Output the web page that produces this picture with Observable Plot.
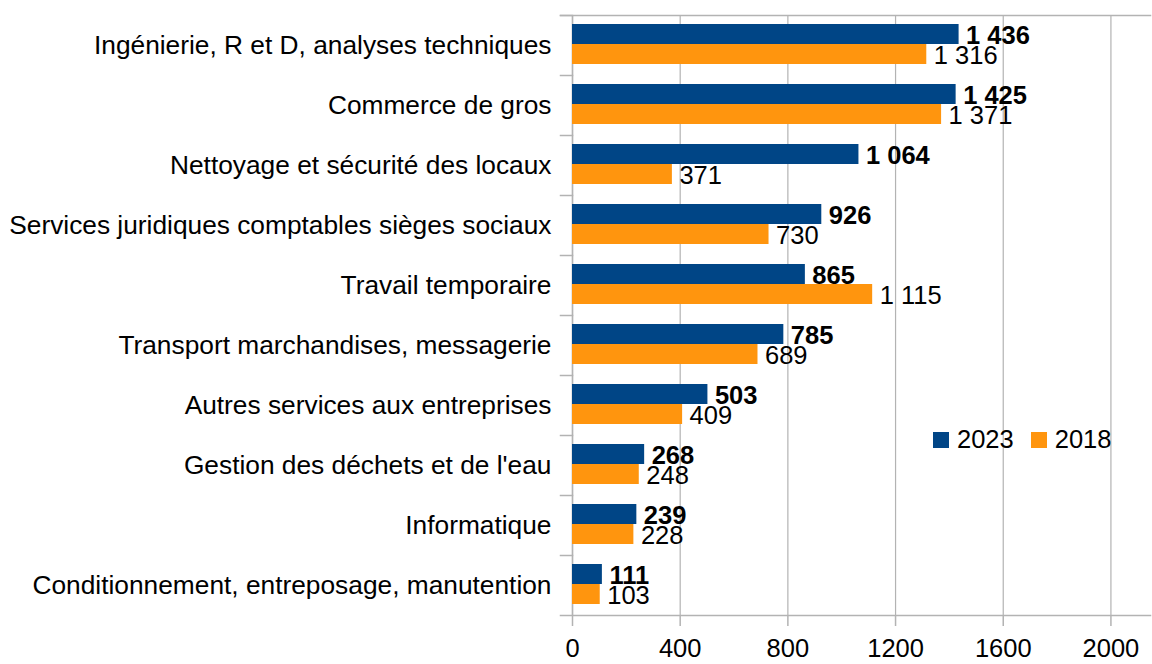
<!DOCTYPE html>
<html>
<head>
<meta charset="utf-8">
<script src="https://cdn.jsdelivr.net/npm/d3@7"></script>
<script src="https://cdn.jsdelivr.net/npm/@observablehq/plot@0.6"></script>
<style>
  html, body { margin: 0; padding: 0; background: #fff; }
  #wrap { position: relative; width: 1152px; height: 664px; font-family: "Liberation Sans", Arial, sans-serif; }
  #legend { position: absolute; left: 933px; top: 425px; display: flex; align-items: center; font-size: 25.5px; color: #000; }
  #legend .sw { width: 16px; height: 16px; display: inline-block; margin-right: 8px; }
</style>
</head>
<body>
<div id="wrap"></div>
<script>
const categories = [
  "Ingénierie, R et D, analyses techniques",
  "Commerce de gros",
  "Nettoyage et sécurité des locaux",
  "Services juridiques comptables sièges sociaux",
  "Travail temporaire",
  "Transport marchandises, messagerie",
  "Autres services aux entreprises",
  "Gestion des déchets et de l'eau",
  "Informatique",
  "Conditionnement, entreposage, manutention"
];
const values2023 = [1436, 1425, 1064, 926, 865, 785, 503, 268, 239, 111];
const values2018 = [1316, 1371, 371, 730, 1115, 689, 409, 248, 228, 103];
const seriesNames = ["2023", "2018"];
const seriesColors = ["#004586", "#ff950e"];
const xTicks = [0, 400, 800, 1200, 1600, 2000];

const data = [];
categories.forEach((c, i) => {
  data.push({cat: c, series: "2023", value: values2023[i]});
  data.push({cat: c, series: "2018", value: values2018[i]});
});

const fmt = d3.formatLocale({decimal: ",", thousands: " ", grouping: [3], currency: ["", " €"]}).format(",d");
const grey = "#b3b3b3";
const width = 1152, height = 664;
const mL = 572, mR = 2;

const chart = Plot.plot({
  width, height,
  marginLeft: mL, marginRight: mR, marginTop: 13, marginBottom: 47,
  style: {fontFamily: "Liberation Sans, Arial, sans-serif", fontSize: "25px", color: "#000", background: "#fff"},
  x: {domain: [0, 2147], axis: null, label: null},
  y: {domain: seriesNames, paddingInner: 0, paddingOuter: 0.49, align: 0.45, axis: null},
  fy: {domain: categories, padding: 0, label: null},
  color: {domain: seriesNames, range: seriesColors},
  marks: [
    Plot.gridX(xTicks, {stroke: grey, strokeOpacity: 1, strokeWidth: 1.2}),
    Plot.ruleX([0], {stroke: grey, strokeWidth: 1.5}),
    Plot.frame({anchor: "top", stroke: grey, strokeWidth: 1.5, insetLeft: -12, insetRight: width - mL - mR}),
    Plot.frame({anchor: "top", stroke: grey, strokeWidth: 1.5, insetLeft: -12, facetAnchor: "top"}),
    Plot.frame({anchor: "bottom", stroke: grey, strokeWidth: 1.5, insetLeft: -12, facetAnchor: "bottom"}),
    Plot.barX(data, {fy: "cat", y: "series", x: "value", fill: "series"}),
    Plot.text(data.filter(d => d.series === "2023"), {fy: "cat", y: "series", x: "value", text: d => fmt(d.value), dx: 7, dy: 1, textAnchor: "start", fontWeight: "bold", fontSize: 25.5, fill: "#000"}),
    Plot.text(data.filter(d => d.series === "2018"), {fy: "cat", y: "series", x: "value", text: d => fmt(d.value), dx: 7, dy: 1, textAnchor: "start", fontSize: 25.5, fill: "#000"}),
    Plot.axisX({ticks: xTicks, tickSize: 11, stroke: grey, strokeWidth: 1.5, tickPadding: 12, fontSize: 25.5, tickFormat: d => String(d), label: null, facetAnchor: "bottom"}),
    Plot.axisFy({tickSize: 0, tickPadding: 21, fontSize: 26.3, label: null, anchor: "left"})
  ]
});
const wrap = document.getElementById("wrap");
wrap.appendChild(chart);

const legend = document.createElement("div");
legend.id = "legend";
seriesNames.forEach((s, i) => {
  const sw = document.createElement("span");
  sw.className = "sw";
  sw.style.background = seriesColors[i];
  const t = document.createElement("span");
  t.textContent = s;
  t.style.marginRight = i === 0 ? "17px" : "0";
  legend.appendChild(sw);
  legend.appendChild(t);
});
wrap.appendChild(legend);
</script>
</body>
</html>
